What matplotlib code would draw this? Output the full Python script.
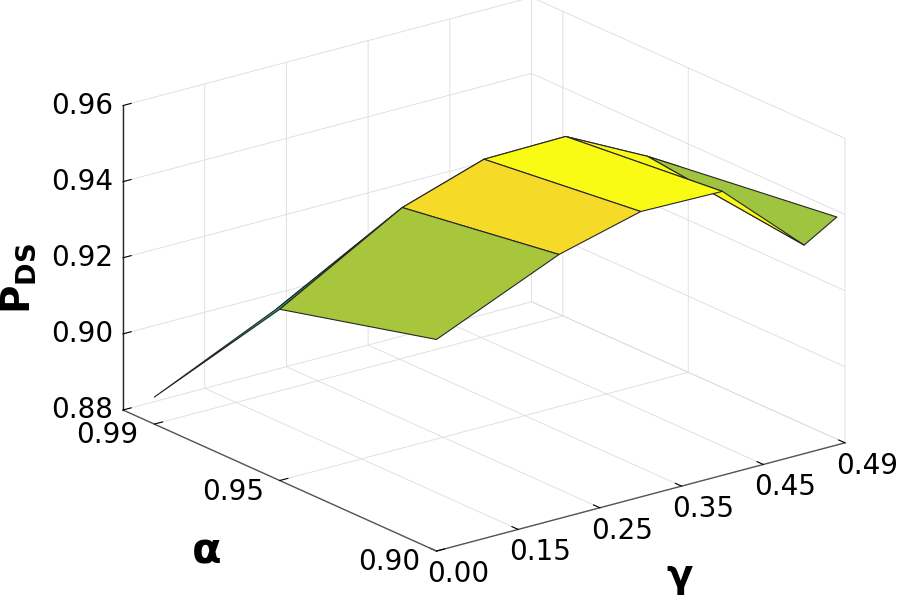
import numpy as np
import matplotlib
matplotlib.use('Agg')
import matplotlib.pyplot as plt
from matplotlib.colors import LinearSegmentedColormap, Normalize
from matplotlib.transforms import ScaledTranslation
from mpl_toolkits.mplot3d import proj3d

# values
gamma = [0.00, 0.15, 0.25, 0.35, 0.45, 0.49]
alpha = [0.90, 0.95, 0.99]
pds_a090 = [0.9356, 0.9494, 0.9550, 0.9546, 0.9348, 0.9399]
pds_a095 = [0.9250, 0.9432, 0.9502, 0.9505, 0.9396, 0.9346]
pds_a099 = [0.8871, 0.9018, 0.9030, 0.9050, 0.9080, 0.9100]

# the gamma axis uses evenly spaced ticks with relabelled text
gamma_tick_pos = [0.0, 0.1, 0.2, 0.3, 0.4, 0.5]
gamma_tick_labels = ['0.00', '0.15', '0.25', '0.35', '0.45', '0.49']
alpha_ticks = [0.90, 0.95, 0.99]
pds_ticks = [0.88, 0.90, 0.92, 0.94, 0.96]

plt.rcParams['font.family'] = ['DejaVu Sans']
plt.rcParams['mathtext.fontset'] = 'dejavusans'
plt.rcParams['grid.color'] = '#dcdcdc'
plt.rcParams['grid.linewidth'] = 0.6

# parula-like colour map
parula = LinearSegmentedColormap.from_list('parula', [
    (0.00, (0.208, 0.166, 0.529)),
    (0.15, (0.078, 0.400, 0.880)),
    (0.30, (0.060, 0.580, 0.840)),
    (0.45, (0.080, 0.680, 0.690)),
    (0.56, (0.118, 0.667, 0.510)),
    (0.71, (0.651, 0.776, 0.231)),
    (0.92, (0.969, 0.855, 0.157)),
    (1.00, (0.977, 0.984, 0.080)),
])

W, H = 911, 609
fig = plt.figure(figsize=(W / 100, H / 100), dpi=100)
ax = fig.add_axes([0, 0, 1, 1], projection='3d', proj_type='ortho')
ax.view_init(elev=20.2, azim=-127.5)
ax.set_box_aspect((1.0, 1.0, 0.63))

X, Y = np.meshgrid(gamma, alpha)
Z = np.array([pds_a090, pds_a095, pds_a099])
norm = Normalize(Z.min(), Z.max())
ax.plot_surface(X, Y, Z, facecolors=parula(norm(Z)), rstride=1, cstride=1,
                edgecolor='#262626', linewidth=0.8, shade=False)

ax.set_xlim(0, 0.5)
ax.set_ylim(0.90, 1.00)
ax.set_zlim(0.88, 0.96)
# tick marks from the axes, tick text placed by hand below (MATLAB-like spots)
ax.set_xticks(gamma_tick_pos)
ax.set_yticks(alpha_ticks)
ax.set_zticks(pds_ticks)

for axis in (ax.xaxis, ax.yaxis, ax.zaxis):
    axis.set_tick_params(labelbottom=False, labeltop=False)
    for tick in axis.get_major_ticks():
        tick.label1.set_visible(False)
        tick.label2.set_visible(False)
    axis.set_pane_color((1, 1, 1, 1))
    axis.pane.set_edgecolor((1, 1, 1, 0))
    axis._axinfo['tick']['inward_factor'] = 0.0
    axis._axinfo['tick']['outward_factor'] = 0.25
    axis._axinfo['tick']['color'] = '#555555'
    axis.line.set_color('#555555')
    axis.line.set_linewidth(1.0)
ax.zaxis.line.set_color('#262626')


def shifted(dx, dy):
    # pixel offset (screen y pointing down) on top of the data transform
    return ax.transData + ScaledTranslation(dx / 100, -dy / 100, fig.dpi_scale_trans)


for v in pds_ticks:
    ax.text(0.0, 1.0, v, '%.2f' % v, fontsize=20, ha='right', va='center',
            transform=shifted(-10, 0))
for v in alpha_ticks:
    ax.text(0.0, v, 0.88, '%.2f' % v, fontsize=20, ha='right', va='center',
            transform=shifted(-16, 11))
for p, s in zip(gamma_tick_pos, gamma_tick_labels):
    ax.text(p, 0.90, 0.88, s, fontsize=20, ha='left', va='top',
            transform=shifted(-9, 9))

# place the axes so that the box corners land where they are in the reference
fig.canvas.draw()


def to_px(x, y, z):
    px, py, _ = proj3d.proj_transform(x, y, z, ax.get_proj())
    return ax.transData.transform((px, py))


pl = to_px(0.0, 1.0, 0.88)
pr = to_px(0.5, 0.9, 0.88)
pos = ax.get_position()
ox, oy, side = pos.x0 * W, pos.y0 * H, pos.width * W
scale = (845 - 123) / (pr[0] - pl[0])
new_side = side * scale
new_x0 = 123 - (pl[0] - ox) * scale
new_y0 = (H - 410) - (pl[1] - oy) * scale
ax.set_position([new_x0 / W, new_y0 / H, new_side / W, new_side / H])

# axis titles
fig.text(19 / W, 1 - 278 / H, r'$\mathbf{P}_{\mathbf{DS}}$', rotation=90,
         fontsize=28, ha='center', va='center')
fig.text(207 / W, 1 - 551 / H, 'α', fontsize=31, fontweight='bold',
         ha='center', va='center')
fig.text(680 / W, 1 - 576 / H, 'γ', fontsize=28, fontweight='bold',
         ha='center', va='center')

fig.savefig('out.png', dpi=100, facecolor='white')
